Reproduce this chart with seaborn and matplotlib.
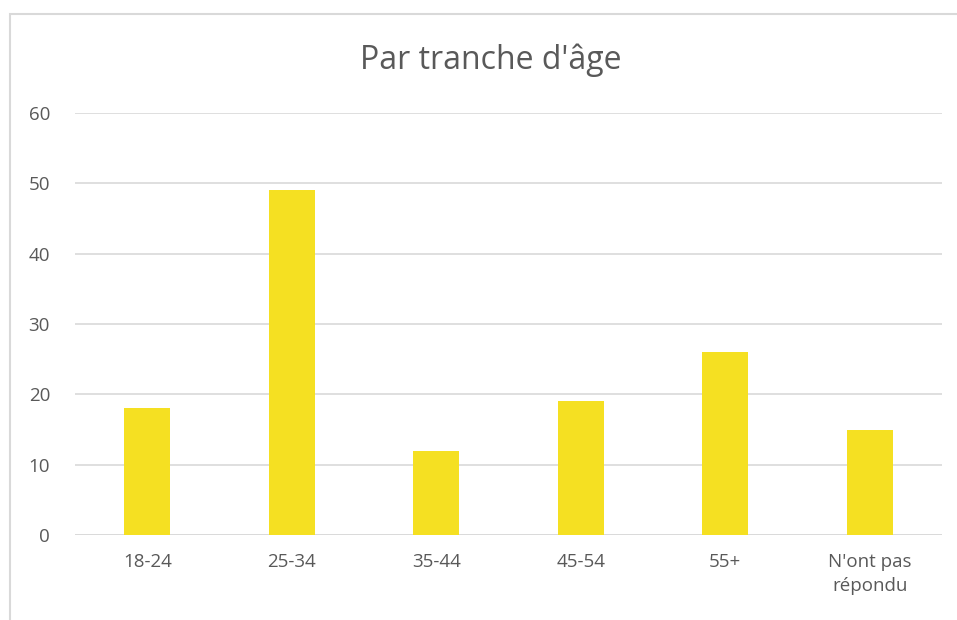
import matplotlib
matplotlib.use("Agg")
import matplotlib.pyplot as plt
import pandas as pd
import seaborn as sns
from matplotlib.patches import Rectangle

categories = ["18-24", "25-34", "35-44", "45-54", "55+", "N'ont pas\nrépondu"]
values = [18, 49, 12, 19, 26, 15]
y_ticks = [0, 10, 20, 30, 40, 50, 60]

sns.set_style("white")
plt.rcParams["font.family"] = ["Open Sans", "DejaVu Sans"]

df = pd.DataFrame({"age": categories, "count": values})

fig = plt.figure(figsize=(9.57, 6.2), dpi=100)
ax = fig.add_axes([75 / 957, 1 - 535 / 620, 867 / 957, 422 / 620])

sns.barplot(data=df, x="age", y="count", color="#F5E022", saturation=1, width=0.32,
            linewidth=0, ax=ax)

ax.set_ylim(0, 60)
ax.set_yticks(y_ticks)
ax.set_xlim(-0.5, len(categories) - 0.5)
ax.yaxis.grid(True, color="#D9D9D9", linewidth=1.2)
ax.set_axisbelow(True)
sns.despine(ax=ax, left=True, top=True, right=True, bottom=True)
ax.axhline(0, color="#D9D9D9", linewidth=1.2, zorder=0)
ax.tick_params(axis="both", length=0, labelsize=13.5, colors="#595959")
ax.tick_params(axis="x", pad=13)
ax.tick_params(axis="y", pad=18)
ax.set_xlabel("")
ax.set_ylabel("")
for lab in ax.get_xticklabels():
    lab.set_linespacing(1.45)

fig.text(491 / 957, 1 - 60 / 620, "Par tranche d'âge", ha="center", va="center",
         fontsize=23, color="#595959")

# chart border, cropped at right and bottom
fig.patches.append(Rectangle((10 / 957, -0.1), 1.2, 1 - 14 / 620 + 0.1,
                             transform=fig.transFigure, fill=False,
                             edgecolor="#D9D9D9", linewidth=1.5))

fig.savefig("out.png", dpi=100)
